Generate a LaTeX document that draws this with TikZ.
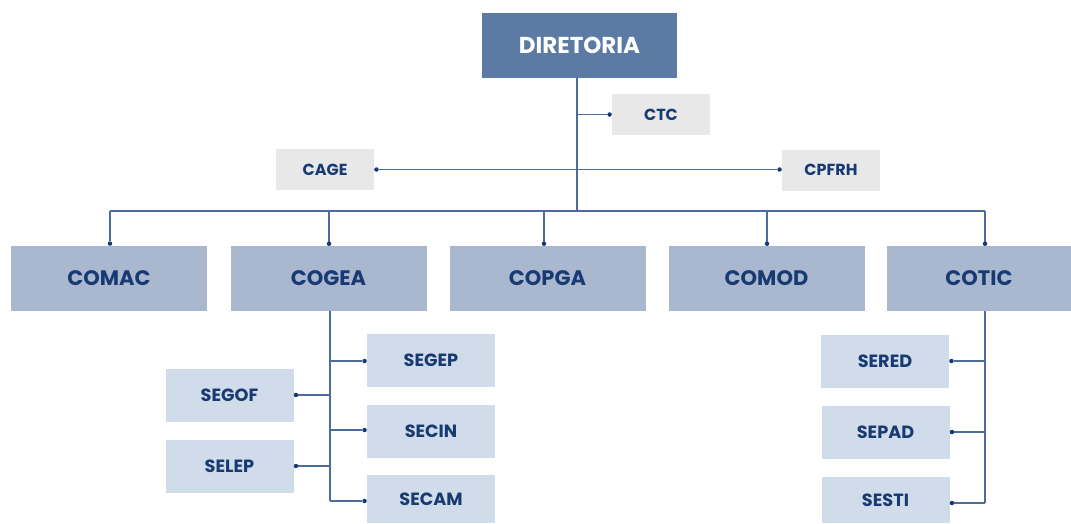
\documentclass[tikz,border=0pt]{standalone}
\usepackage{fontspec}
\setmainfont{Poppins}
\usetikzlibrary{arrows.meta}
\definecolor{dirfill}{HTML}{5B7BA4}
\definecolor{lvtwo}{HTML}{A9B8CF}
\definecolor{lvthree}{HTML}{D1DCEA}
\definecolor{grayfill}{HTML}{E8E8E8}
\definecolor{navy}{HTML}{183A73}
\definecolor{linec}{HTML}{4C6C9C}
\tikzset{
  base/.style={inner sep=0pt, font=\bfseries, text=navy},
  dirbox/.style={base, fill=dirfill, text=white, minimum width=195pt, minimum height=65pt, font=\bfseries\fontsize{23}{26}\selectfont},
  twobox/.style={base, fill=lvtwo, minimum width=196pt, minimum height=65pt, font=\bfseries\fontsize{21}{24}\selectfont},
  threebox/.style={base, fill=lvthree, minimum width=128pt, minimum height=53pt, font=\bfseries\fontsize{17.7}{20}\selectfont},
  graybox/.style={base, fill=grayfill, minimum width=98pt, minimum height=41pt, font=\bfseries\fontsize{16}{19}\selectfont},
  conn/.style={draw=linec, line width=1.3pt},
  dottip/.tip={Circle[length=4.5pt, width=4.5pt, line width=0pt, fill=navy, color=navy]},
  dotend/.style={conn, -dottip},
  dotboth/.style={conn, dottip-dottip},
}
\begin{document}
\begin{tikzpicture}[x=1pt,y=-1pt]
\useasboundingbox[fill=white] (0,0) rectangle (1071,523);
% nodes
\node[dirbox] (dir) at (579.5,45.5) {DIRETORIA};
\node[graybox] (ctc) at (661,114.5) {CTC};
\node[graybox] (cage) at (325,169.5) {CAGE};
\node[graybox] (cpfrh) at (831,170) {CPFRH};
\node[twobox] (comac) at (109,278.5) {COMAC};
\node[twobox] (cogea) at (328.5,278.5) {COGEA};
\node[twobox] (copga) at (547.5,278.5) {COPGA};
\node[twobox] (comod) at (766.5,278.5) {COMOD};
\node[twobox, minimum width=184pt] (cotic) at (979,278.5) {COTIC};
\node[threebox] (segep) at (431,360.5) {SEGEP};
\node[threebox] (secin) at (431,431) {SECIN};
\node[threebox, minimum height=48pt] (secam) at (431,499) {SECAM};
\node[threebox] (segof) at (229.5,395.5) {SEGOF};
\node[threebox] (selep) at (229.5,466.5) {SELEP};
\node[threebox] (sered) at (885,361) {SERED};
\node[threebox] (sepad) at (885.5,432) {SEPAD};
\node[threebox, minimum height=46pt] (sesti) at (885.5,500) {SESTI};
% junctions
\coordinate (ttop) at (577,78);
\coordinate (tbus) at (577,211);
\coordinate (busl) at (110,211);
\coordinate (busr) at (985,211);
\coordinate (gtop) at (330,311);
\coordinate (gbot) at (330,501);
\coordinate (ttopr) at (985,311);
\coordinate (tbotr) at (985,503);
% trunk
\draw[conn] (ttop) -- (tbus);
\draw[conn] (busl) -- (busr);
\draw[dotend] (577,114.5) -- (ctc.west);
\draw[dotboth] (cage.east) -- (cage.east -| cpfrh.west);
\draw[dotend] (busl) -- (comac.north -| busl);
\draw[dotend] (329,211) -- (329,246);
\draw[dotend] (544,211) -- (544,246);
\draw[dotend] (767,211) -- (767,246);
\draw[dotend] (busr) -- (985,246);
% cogea
\draw[conn] (gtop) -- (gbot);
\draw[dotend] (330,361) -- (segep.west |- 0,361);
\draw[dotend] (330,430) -- (secin.west |- 0,430);
\draw[dotend] (gbot) -- (secam.west |- gbot);
\draw[dotend] (330,395) -- (segof.east |- 0,395);
\draw[dotend] (330,466) -- (selep.east |- 0,466);
% cotic
\draw[conn] (ttopr) -- (tbotr);
\draw[dotend] (985,361) -- (sered.east |- 0,361);
\draw[dotend] (985,432) -- (sepad.east |- 0,432);
\draw[dotend] (tbotr) -- (sesti.east |- tbotr);
\end{tikzpicture}
\end{document}
